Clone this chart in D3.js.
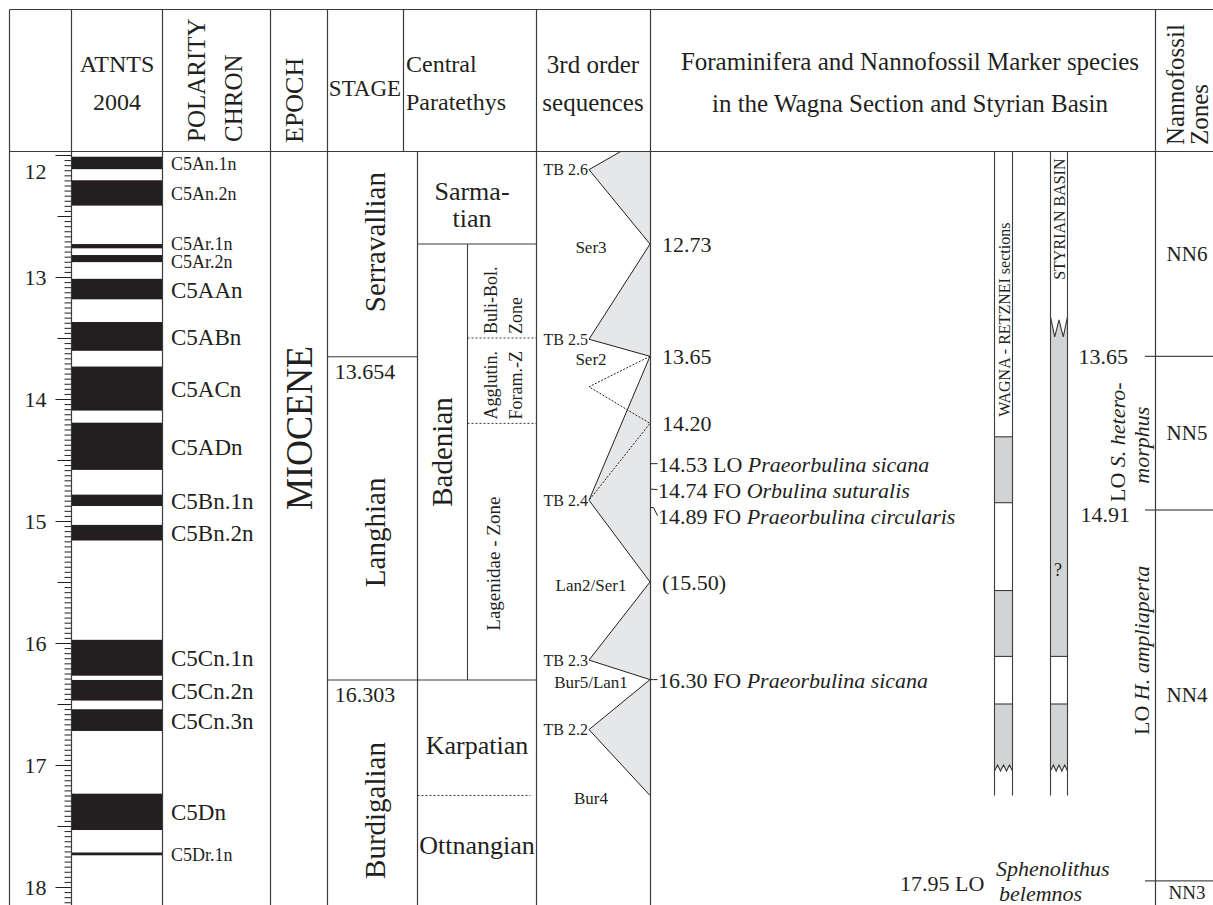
<!DOCTYPE html>
<html>
<head>
<meta charset="utf-8">
<script src="https://cdn.jsdelivr.net/npm/d3@7"></script>
<style>
  html, body { margin: 0; padding: 0; background: #fff; }
  svg { display: block; font-family: "Liberation Serif", "Times New Roman", serif; }
  svg text { font-family: "Liberation Serif", "Times New Roman", serif; }
</style>
</head>
<body>
<svg id="chart" width="1213" height="905"></svg>
<script>
// ---------------- data (ages in Ma) ----------------
const ageTicks = [12, 13, 14, 15, 16, 17, 18];

// ATNTS 2004 normal-polarity chrons
const chronNames = ["C5An.1n", "C5An.2n", "C5Ar.1n", "C5Ar.2n", "C5AAn", "C5ABn", "C5ACn", "C5ADn",
                    "C5Bn.1n", "C5Bn.2n", "C5Cn.1n", "C5Cn.2n", "C5Cn.3n", "C5Dn", "C5Dr.1n"];
const chronTop  = [12.014, 12.207, 12.730, 12.820, 13.015, 13.369, 13.734, 14.194,
                   14.784, 15.032, 15.974, 16.303, 16.543, 17.235, 17.717];
const chronBase = [12.116, 12.415, 12.765, 12.878, 13.183, 13.605, 14.095, 14.581,
                   14.877, 15.160, 16.268, 16.472, 16.721, 17.533, 17.740];

// standard stages
const stageNames = ["Serravallian", "Langhian", "Burdigalian"];
const stageBoundaries = [13.654, 16.303];

// Central Paratethys stages
const paraStages = ["Sarmatian", "Badenian", "Karpatian", "Ottnangian"];
const paraBoundaries = [12.73, 16.303, 17.25];
const badenZoneLines = [["Buli-Bol.", "Zone"], ["Agglutin.", "Foram.-Z"], ["Lagenidae - Zone"]];
const badenZoneBoundaries = [13.5, 14.2];

// 3rd order sequences
const tbNames = ["TB 2.6", "TB 2.5", "TB 2.4", "TB 2.3", "TB 2.2"];
const tbAges = [12.12, 13.51, 14.83, 16.14, 16.71];
const seqNames = ["Ser3", "Ser2", "Lan2/Ser1", "Bur5/Lan1", "Bur4"];
const seqAges = [12.73, 13.65, 15.50, 16.30, 17.25];
const seqAgeLabels = ["12.73", "13.65", "(15.50)", "", ""];
const seqTopLevel = 0.52;
const altSeqAges = [13.65, 13.90, 14.20, 14.83];
const altSeqLevels = [1, 0, 1, 0];
const altSeqLabel = "14.20";

// foraminifera bioevents
const foramAges = [14.53, 14.74, 14.89, 16.30];
const foramEvents = ["LO", "FO", "FO", "FO"];
const foramSpecies = ["Praeorbulina sicana", "Orbulina suturalis", "Praeorbulina circularis", "Praeorbulina sicana"];

// studied sections (ranges of grey intervals)
const wagnaRanges = [[14.31, 14.85], [15.57, 16.11], [16.50, 17.05]];
const styrianRanges = [[13.49, 16.11], [16.50, 17.05]];
const sectionBase = 17.25;
const styrianQuery = 15.40;

// nannofossil zones
const nannoZones = ["NN6", "NN5", "NN4", "NN3"];
const nannoBoundaries = [13.65, 14.91, 17.95];

// ---------------- layout ----------------
const INK = "#231f20", RULE = "#3b3b3b", SHADE = "#e6e7e8", SECT = "#d1d3d4";
const SERIF = "Liberation Serif, Times New Roman, serif";
const X = { left: 9.5, ruler: 71.5, chron: 162.5, epoch: 270.5, stage: 327.5, stageHdr: 403.5,
            para: 417.5, paraSub: 467.5, seq: 536.5, foram: 650.5, nanno: 1155.5, right: 1213 };
const yFrame = 9.5, yHdr = 151.5, yBot = 905;

const svg = d3.select("#chart");
const y = d3.scaleLinear().domain([12, 18]).range([155, 887]);
const topAge = y.invert(yHdr), botAge = y.invert(yBot);

svg.append("defs").append("clipPath").attr("id", "bodyClip")
  .append("rect").attr("x", 0).attr("y", yHdr).attr("width", 1213).attr("height", yBot - yHdr);
const body = svg.append("g").attr("clip-path", "url(#bodyClip)");
const head = svg.append("g");

function label(g, x, yy, str, o = {}) {
  const t = g.append("text").attr("x", x).attr("y", yy)
    .attr("font-size", o.size || 22).attr("fill", INK)
    .attr("text-anchor", o.anchor || "start")
    .attr("dominant-baseline", "central");
  if (o.italic) t.attr("font-style", "italic");
  t.text(str);
  return t;
}
function vlabel(g, x, yy, str, o = {}) {
  const t = g.append("text").attr("transform", `translate(${x},${yy}) rotate(-90)`)
    .attr("font-size", o.size || 22).attr("fill", INK)
    .attr("text-anchor", o.anchor || "middle")
    .attr("dominant-baseline", "central");
  if (o.italic) t.attr("font-style", "italic");
  if (o.length) t.attr("textLength", o.length).attr("lengthAdjust", "spacingAndGlyphs");
  t.text(str);
  return t;
}
function hline(g, x1, x2, age, o = {}) {
  const l = g.append("line").attr("x1", x1).attr("x2", x2)
    .attr("y1", y(age)).attr("y2", y(age))
    .attr("stroke", o.color || RULE).attr("stroke-width", o.width || 1.1);
  if (o.dash) l.attr("stroke-dasharray", o.dash);
  return l;
}

// ---------------- header ----------------
label(head, 117, 64, "ATNTS", { size: 24, anchor: "middle" });
label(head, 117, 102, "2004", { size: 24, anchor: "middle" });
vlabel(head, 196, 142, "POLARITY", { size: 25, anchor: "start" });
vlabel(head, 233, 142, "CHRON", { size: 25, anchor: "start" });
vlabel(head, 294, 143, "EPOCH", { size: 26, anchor: "start" });
label(head, 365, 88, "STAGE", { size: 23, anchor: "middle" });
label(head, 406, 64, "Central", { size: 24 });
label(head, 406, 102, "Paratethys", { size: 24 });
label(head, 593, 64, "3rd order", { size: 25, anchor: "middle" });
label(head, 593, 102, "sequences", { size: 25, anchor: "middle" });
label(head, 910, 61, "Foraminifera and Nannofossil Marker species", { size: 25, anchor: "middle" });
label(head, 910, 103, "in the Wagna Section and Styrian Basin", { size: 25, anchor: "middle" });
vlabel(head, 1175, 145, "Nannofossil", { size: 25, anchor: "start" });
vlabel(head, 1199, 145, "Zones", { size: 25, anchor: "start" });

// ---------------- age ruler ----------------
const minorTicks = d3.range(0, 150).map(i => 12 + i / 24).filter((d, i) => i % 12 !== 0);
const halfTicks = d3.range(0, 13).map(i => 12 + i * 0.5).filter(d => d % 1 !== 0);
const ruler = body.append("g").attr("transform", `translate(${X.ruler},0)`);
ruler.append("g").call(d3.axisLeft(y).tickValues(minorTicks).tickSize(7).tickFormat(""));
ruler.append("g").call(d3.axisLeft(y).tickValues(halfTicks).tickSize(14).tickFormat(""));
const major = ruler.append("g").call(d3.axisLeft(y).tickValues(ageTicks).tickSize(16).tickPadding(9).tickFormat(d3.format("d")));
ruler.selectAll(".domain").remove();
ruler.selectAll("g").attr("font-family", SERIF);
ruler.selectAll(".tick line").attr("stroke", INK).attr("stroke-width", 1);
major.selectAll(".tick text")
  .style("font-family", SERIF).attr("font-size", 22).attr("fill", INK)
  .attr("transform", d => `translate(0,${Math.max(0, yHdr + 20 - y(d))})`);

// ---------------- polarity ----------------
body.append("g").selectAll("rect").data(chronNames).join("rect")
  .attr("x", X.ruler).attr("width", X.chron - X.ruler)
  .attr("y", (d, i) => y(chronTop[i]))
  .attr("height", (d, i) => y(chronBase[i]) - y(chronTop[i]))
  .attr("fill", INK);

const smallChron = new Set(["C5An.1n", "C5An.2n", "C5Ar.1n", "C5Ar.2n", "C5Dr.1n"]);
const chronLabelY = chronNames.map((d, i) => y((chronTop[i] + chronBase[i]) / 2) + 1);
for (let i = 1; i < chronLabelY.length; i++) {
  const gap = chronLabelY[i] - chronLabelY[i - 1];
  if (gap < 18) { const s = (18 - gap) / 2; chronLabelY[i - 1] -= s; chronLabelY[i] += s; }
}
chronNames.forEach((d, i) => {
  label(body, 171, chronLabelY[i], d, { size: smallChron.has(d) ? 18 : 23 });
});

// ---------------- epoch ----------------
vlabel(body, 299, 428, "MIOCENE", { size: 37, length: 164 });

// ---------------- stages ----------------
const stageEdges = [topAge, ...stageBoundaries, botAge];
stageBoundaries.forEach((b, i) => {
  hline(body, X.stage, i === 0 ? X.para : X.seq, b);
  label(body, 365, y(b) + 15, d3.format(".3f")(b), { size: 22, anchor: "middle" });
});
const stageShift = [-12, 14, 18];
stageNames.forEach((s, i) => {
  const mid = (y(stageEdges[i]) + y(stageEdges[i + 1])) / 2 + stageShift[i];
  vlabel(body, 375, mid, s, { size: 29 });
});

// ---------------- Central Paratethys ----------------
hline(body, X.para, X.seq, paraBoundaries[0]);
hline(body, X.para, X.seq - 6, paraBoundaries[2], { dash: "2,2", width: 1 });
body.append("line").attr("x1", X.paraSub).attr("x2", X.paraSub)
  .attr("y1", y(paraBoundaries[0])).attr("y2", y(paraBoundaries[1]))
  .attr("stroke", RULE).attr("stroke-width", 1.1);
const paraEdges = [topAge, ...paraBoundaries, botAge];
{
  const m0 = (y(paraEdges[0]) + y(paraEdges[1])) / 2;
  label(body, 472, m0 - 6, "Sarma-", { size: 26, anchor: "middle" });
  label(body, 472, m0 + 21, "tian", { size: 26, anchor: "middle" });
  vlabel(body, 442, (y(paraEdges[1]) + y(paraEdges[2])) / 2 - 10, paraStages[1], { size: 29 });
  label(body, 477, (y(paraEdges[2]) + y(paraEdges[3])) / 2 + 8, paraStages[2], { size: 26, anchor: "middle" });
  label(body, 477, (y(paraEdges[3]) + yBot) / 2 - 5, paraStages[3], { size: 26, anchor: "middle" });
}
badenZoneBoundaries.forEach(b => hline(body, X.paraSub, X.seq, b, { dash: "2,2", width: 1 }));
badenZoneLines.forEach((lines, i) => {
  const base = i < badenZoneBoundaries.length ? badenZoneBoundaries[i] : null;
  if (lines.length === 2) {
    vlabel(body, 491, y(base) - 4, lines[0], { size: 18, anchor: "start" });
    vlabel(body, 516, y(base) - 4, lines[1], { size: 18, anchor: "start" });
  } else {
    const mid = (y(badenZoneBoundaries[badenZoneBoundaries.length - 1]) + y(paraBoundaries[1])) / 2 + 12;
    vlabel(body, 493, mid, lines[0], { size: 19 });
  }
});

// ---------------- 3rd order sequences ----------------
const xs = d3.scaleLinear().domain([0, 1]).range([589, 650]);
const seqPts = [{ a: topAge, l: seqTopLevel }];
tbAges.forEach((a, i) => { seqPts.push({ a, l: 0 }); seqPts.push({ a: seqAges[i], l: 1 }); });
body.append("path").datum(seqPts)
  .attr("d", d3.area().y(d => y(d.a)).x0(d => xs(d.l)).x1(() => xs(1)))
  .attr("fill", SHADE);
body.append("path").datum(seqPts)
  .attr("d", d3.line().x(d => xs(d.l)).y(d => y(d.a)))
  .attr("fill", "none").attr("stroke", INK).attr("stroke-width", 1);
const altPts = altSeqAges.map((a, i) => ({ a, l: altSeqLevels[i] }));
body.append("path").datum(altPts)
  .attr("d", d3.line().x(d => xs(d.l)).y(d => y(d.a)))
  .attr("fill", "none").attr("stroke", INK).attr("stroke-width", 1).attr("stroke-dasharray", "2,1.5");

tbNames.forEach((t, i) => label(body, xs(0) - 1, y(tbAges[i]), t, { size: 16, anchor: "end" }));
seqNames.forEach((s, i) => label(body, 591, y(seqAges[i]) + 3, s, { size: 17, anchor: "middle" }));
seqAgeLabels.forEach((s, i) => { if (s) label(body, 662, y(seqAges[i]), s, { size: 22 }); });
label(body, 662, y(altSeqAges[2]), altSeqLabel, { size: 22 });

// ---------------- foraminifera markers ----------------
const foramY = foramAges.map(a => y(a));
for (let i = 1; i < foramY.length; i++) foramY[i] = Math.max(foramY[i], foramY[i - 1] + 26);
foramAges.forEach((a, i) => {
  body.append("path")
    .attr("d", `M${X.foram},${y(a)}L${X.foram + 3},${y(a)}L${X.foram + 7},${foramY[i]}`)
    .attr("fill", "none").attr("stroke", INK).attr("stroke-width", 1);
  const t = label(body, 658, foramY[i], "", { size: 22 });
  t.append("tspan").text(`${a.toFixed(2)}  ${foramEvents[i]}  `);
  t.append("tspan").attr("font-style", "italic").text(foramSpecies[i]);
});

// ---------------- section columns ----------------
function sectionColumn(x0, x1, ranges, brokenTop, brokenBase) {
  const g = body.append("g");
  const w = x1 - x0;
  ranges.forEach((r, i) => {
    const yt = y(r[0]), yb = y(r[1]);
    const topBroken = brokenTop && i === 0;
    const baseBroken = brokenBase && i === ranges.length - 1;
    const top = topBroken
      ? [[x0, yt - 20], [x0 + w / 4, yt], [x0 + w / 2, yt - 17], [x0 + 3 * w / 4, yt], [x1, yt - 20]]
      : [[x0, yt], [x1, yt]];
    const base = baseBroken
      ? d3.range(6, -1, -1).map(k => [x0 + k * w / 6, k % 2 ? yb - 6 : yb])
      : [[x1, yb], [x0, yb]];
    g.append("path").attr("d", "M" + [...top, ...base].join("L") + "Z")
      .attr("fill", SECT).attr("stroke", "none");
    g.append("path").attr("d", d3.line()(top)).attr("fill", "none").attr("stroke", RULE).attr("stroke-width", 1.1);
    g.append("path").attr("d", d3.line()(base)).attr("fill", "none").attr("stroke", RULE).attr("stroke-width", 1.1);
  });
  [x0, x1].forEach(x => g.append("line").attr("x1", x).attr("x2", x)
    .attr("y1", yHdr).attr("y2", y(sectionBase)).attr("stroke", RULE).attr("stroke-width", 1.1));
  return g;
}
sectionColumn(994.5, 1012.5, wagnaRanges, false, true);
sectionColumn(1050.5, 1067.5, styrianRanges, true, true);
vlabel(body, 1004, y(wagnaRanges[0][0]) - 20, "WAGNA - RETZNEI sections", { size: 16, anchor: "start" });
vlabel(body, 1059, yHdr + 7, "STYRIAN BASIN", { size: 16, anchor: "end" });
label(body, 1058, y(styrianQuery), "?", { size: 18, anchor: "middle" });

// ---------------- nannofossil zones and markers ----------------
nannoBoundaries.forEach(b => hline(body, 1145, X.right, b, { color: INK, width: 1 }));
label(body, 1128, y(nannoBoundaries[0]), nannoBoundaries[0].toFixed(2), { size: 22, anchor: "end" });
label(body, 1130, y(nannoBoundaries[1]) + 4, nannoBoundaries[1].toFixed(2), { size: 22, anchor: "end" });
{
  const t = vlabel(body, 1117, y(nannoBoundaries[1]) - 8, "", { size: 22, anchor: "start" });
  t.append("tspan").text("LO ");
  t.append("tspan").attr("font-style", "italic").text("S. hetero-");
  vlabel(body, 1141, (y(nannoBoundaries[0]) + y(nannoBoundaries[1])) / 2 + 12, "morphus", { size: 22, italic: true });
  const h = vlabel(body, 1141, y(nannoBoundaries[1]) + 225, "", { size: 22, anchor: "start" });
  h.append("tspan").text("LO ");
  h.append("tspan").attr("font-style", "italic").text("H. ampliaperta");
  const yb = y(nannoBoundaries[2]);
  label(body, 900, yb + 3, nannoBoundaries[2].toFixed(2) + " LO", { size: 22 });
  label(body, 996, yb - 12, "Sphenolithus", { size: 22, italic: true });
  label(body, 999, yb + 13, "belemnos", { size: 22, italic: true });
}
const zoneEdges = [topAge, ...nannoBoundaries];
nannoZones.forEach((z, i) => {
  const last = i === nannoZones.length - 1;
  const yy = last ? y(zoneEdges[i]) + 12 : (y(zoneEdges[i]) + y(zoneEdges[i + 1])) / 2;
  label(body, 1187, yy, z, { size: last ? 19 : 21, anchor: "middle" });
});

// ---------------- frame ----------------
const frame = svg.append("g").attr("stroke", RULE).attr("stroke-width", 1.2);
frame.append("line").attr("x1", X.left).attr("x2", X.right).attr("y1", yFrame).attr("y2", yFrame);
frame.append("line").attr("x1", X.left).attr("x2", X.right).attr("y1", yHdr).attr("y2", yHdr);
[X.left, X.ruler, X.chron, X.epoch, X.stage, X.seq, X.foram, X.nanno].forEach(x =>
  frame.append("line").attr("x1", x).attr("x2", x).attr("y1", yFrame).attr("y2", yBot));
frame.append("line").attr("x1", X.stageHdr).attr("x2", X.stageHdr).attr("y1", yFrame).attr("y2", yHdr);
frame.append("line").attr("x1", X.para).attr("x2", X.para).attr("y1", yHdr).attr("y2", yBot);
</script>
</body>
</html>
